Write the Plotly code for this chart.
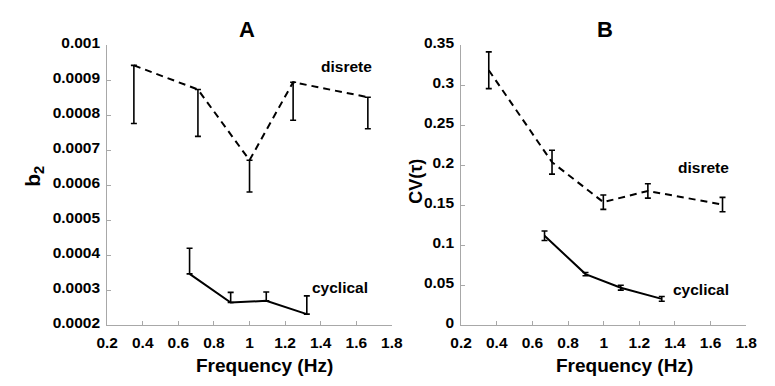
import plotly.graph_objects as go

# Panel A: b2 vs movement frequency
freq_disc_a = [0.35, 0.71, 1.00, 1.245, 1.665]
b2_disc = [0.000943, 0.000874, 0.000672, 0.000895, 0.000852]
b2_disc_err = [0.000166, 0.000134, 0.000091, 0.000109, 0.000090]

freq_cyc_a = [0.663, 0.894, 1.094, 1.322]
b2_cyc = [0.000347, 0.000265, 0.000270, 0.000232]
b2_cyc_err = [0.000073, 0.000029, 0.000025, 0.000052]

# Panel B: CV(tau) vs movement frequency
freq_disc_b = [0.355, 0.71, 0.998, 1.248, 1.667]
cv_disc = [0.319, 0.204, 0.154, 0.168, 0.151]
cv_disc_err = [0.023, 0.015, 0.009, 0.009, 0.009]

freq_cyc_b = [0.668, 0.898, 1.096, 1.326]
cv_cyc = [0.112, 0.064, 0.047, 0.033]
cv_cyc_err = [0.006, 0.002, 0.003, 0.003]

x_ticks = [0.2, 0.4, 0.6, 0.8, 1.0, 1.2, 1.4, 1.6, 1.8]
x_tick_text = ["0.2", "0.4", "0.6", "0.8", "1", "1.2", "1.4", "1.6", "1.8"]
b2_ticks = [0.0002, 0.0003, 0.0004, 0.0005, 0.0006, 0.0007, 0.0008, 0.0009, 0.001]
b2_tick_text = ["0.0002", "0.0003", "0.0004", "0.0005", "0.0006", "0.0007", "0.0008", "0.0009", "0.001"]
cv_ticks = [0, 0.05, 0.1, 0.15, 0.2, 0.25, 0.3, 0.35]
cv_tick_text = ["0", "0.05", "0.1", "0.15", "0.2", "0.25", "0.3", "0.35"]

W, H = 775, 386
FONT = "Liberation Sans, Arial, sans-serif"
AXIS_GREY = "#a8a8a8"


def px(x):
    return x / W


def py(y):
    return 1 - y / H


err_style = dict(color="black", thickness=1.6, width=3)
dash = "7px,5px"

fig = go.Figure()

# A, discrete (dashed, lower error bars)
fig.add_trace(go.Scatter(
    x=freq_disc_a, y=b2_disc, mode="lines",
    line=dict(color="black", width=2, dash=dash),
    error_y=dict(type="data", symmetric=False, array=[0] * len(b2_disc_err),
                 arrayminus=b2_disc_err, **err_style),
    xaxis="x", yaxis="y", showlegend=False))
# A, cyclical (solid, upper error bars)
fig.add_trace(go.Scatter(
    x=freq_cyc_a, y=b2_cyc, mode="lines",
    line=dict(color="black", width=2),
    error_y=dict(type="data", symmetric=False, array=b2_cyc_err,
                 arrayminus=[0] * len(b2_cyc_err), **err_style),
    xaxis="x", yaxis="y", showlegend=False))
# B, discrete
fig.add_trace(go.Scatter(
    x=freq_disc_b, y=cv_disc, mode="lines",
    line=dict(color="black", width=2, dash=dash),
    error_y=dict(type="data", array=cv_disc_err, **err_style),
    xaxis="x2", yaxis="y2", showlegend=False))
# B, cyclical
fig.add_trace(go.Scatter(
    x=freq_cyc_b, y=cv_cyc, mode="lines",
    line=dict(color="black", width=2),
    error_y=dict(type="data", array=cv_cyc_err, **err_style),
    xaxis="x2", yaxis="y2", showlegend=False))

tick_font = dict(family=FONT, size=15.5, color="black", weight="bold")
axis_common = dict(
    showgrid=False, zeroline=False, showline=True, linecolor=AXIS_GREY,
    linewidth=1, ticks="inside", ticklen=4, tickcolor=AXIS_GREY,
    tickfont=tick_font, mirror=False,
)
x_common = dict(axis_common, ticklabelstandoff=3)
y_common = dict(axis_common, ticklabelstandoff=3, ticklabelshift=-3)

y_dom = [py(327.7), py(35)]
fig.update_layout(
    width=W, height=H,
    margin=dict(l=0, r=0, t=0, b=0),
    paper_bgcolor="white", plot_bgcolor="white",
    xaxis=dict(domain=[px(99), px(392)], range=[0.2, 1.8], tickvals=x_ticks,
               ticktext=x_tick_text, anchor="y", **x_common),
    yaxis=dict(domain=y_dom, range=[0.0002, 0.001], tickvals=b2_ticks,
               ticktext=b2_tick_text, anchor="x", **y_common),
    xaxis2=dict(domain=[px(463.3), px(756.7)], range=[0.2, 1.8], tickvals=x_ticks,
                ticktext=x_tick_text, anchor="y2", **x_common),
    yaxis2=dict(domain=y_dom, range=[0, 0.35], tickvals=cv_ticks,
                ticktext=cv_tick_text, anchor="x2", **y_common),
)


def label(text, x, y, size, angle=0):
    fig.add_annotation(
        text=text, x=px(x), y=py(y), xref="paper", yref="paper",
        xanchor="center", yanchor="middle", showarrow=False, textangle=angle,
        font=dict(family=FONT, size=size, color="black", weight="bold"))


# panel letters
label("A", 243, 18, 22)
label("B", 611, 18, 22)
# axis titles
label("Frequency (Hz)", 260.5, 370, 19)
label("Frequency (Hz)", 631.7, 370, 19)
label("b<sub>2</sub>", 24, 172, 21, angle=-90)
label("CV(τ)", 417.5, 177, 18, angle=-90)
# series labels
label("disrete", 345.5, 57, 15.5)
label("cyclical", 338.5, 288, 15.5)
label("disrete", 713, 163, 15.5)
label("cyclical", 710, 290, 15.5)

fig.write_html("out.html")
